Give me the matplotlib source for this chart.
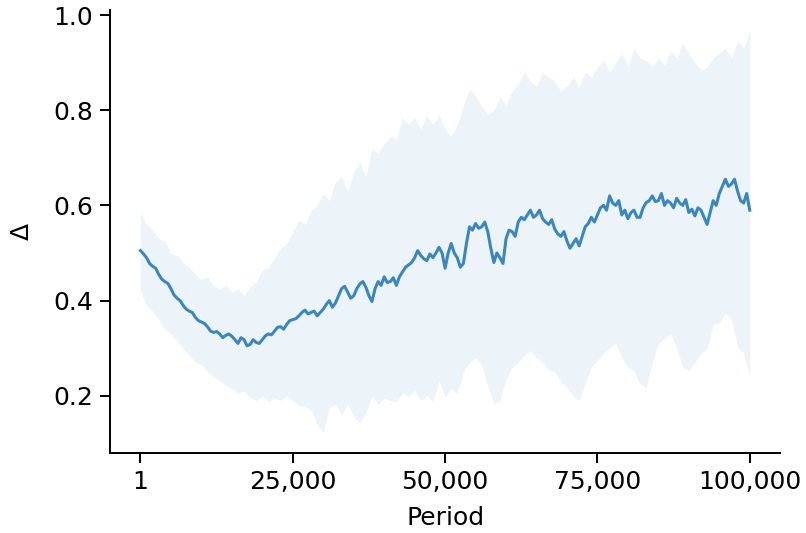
import matplotlib

matplotlib.use("Agg")
import matplotlib.pyplot as plt
from matplotlib.ticker import FuncFormatter

plt.rcParams["font.family"] = ["DejaVu Sans"]

# mean line sampled every 500 periods (first sample at period 1)
line_periods = [1] + list(range(500, 100001, 500))

delta_mean = [
    0.505, 0.498, 0.490, 0.478, 0.472, 0.468, 0.455, 0.445, 0.440, 0.436,
    0.425, 0.412, 0.405, 0.400, 0.390, 0.382, 0.378, 0.375, 0.365, 0.358,
    0.355, 0.352, 0.345, 0.336, 0.333, 0.335, 0.330, 0.322, 0.327, 0.330,
    0.325, 0.318, 0.310, 0.322, 0.318, 0.305, 0.308, 0.318, 0.312, 0.310,
    0.318, 0.326, 0.330, 0.328, 0.336, 0.344, 0.345, 0.340, 0.350, 0.358,
    0.360, 0.362, 0.368, 0.375, 0.380, 0.372, 0.375, 0.378, 0.368, 0.375,
    0.382, 0.392, 0.400, 0.386, 0.395, 0.410, 0.425, 0.430, 0.418, 0.405,
    0.410, 0.425, 0.435, 0.440, 0.428, 0.410, 0.398, 0.425, 0.440, 0.432,
    0.450, 0.438, 0.440, 0.448, 0.432, 0.450, 0.460, 0.470, 0.475, 0.480,
    0.490, 0.505, 0.495, 0.488, 0.484, 0.498, 0.490, 0.500, 0.512, 0.500,
    0.468, 0.500, 0.520, 0.500, 0.490, 0.470, 0.478, 0.520, 0.555, 0.548,
    0.562, 0.552, 0.555, 0.565, 0.545, 0.510, 0.480, 0.500, 0.490, 0.478,
    0.530, 0.548, 0.545, 0.535, 0.565, 0.575, 0.570, 0.580, 0.590, 0.575,
    0.580, 0.590, 0.572, 0.565, 0.560, 0.570, 0.550, 0.540, 0.535, 0.545,
    0.525, 0.510, 0.520, 0.530, 0.515, 0.535, 0.555, 0.562, 0.575, 0.565,
    0.580, 0.595, 0.600, 0.590, 0.620, 0.605, 0.600, 0.610, 0.580, 0.590,
    0.572, 0.585, 0.590, 0.575, 0.575, 0.595, 0.606, 0.610, 0.620, 0.608,
    0.610, 0.625, 0.600, 0.610, 0.605, 0.595, 0.615, 0.605, 0.600, 0.612,
    0.585, 0.592, 0.578, 0.595, 0.590, 0.575, 0.560, 0.585, 0.610, 0.600,
    0.625, 0.640, 0.655, 0.640, 0.645, 0.655, 0.630, 0.610, 0.605, 0.625,
    0.590,
]

# band sampled every 1,000 periods
band_periods = [1] + list(range(1000, 100001, 1000))

delta_upper = [
    0.585, 0.560, 0.548, 0.530, 0.525, 0.500, 0.495, 0.478, 0.470, 0.455,
    0.445, 0.450, 0.430, 0.425, 0.432, 0.418, 0.425, 0.410, 0.430, 0.440,
    0.465, 0.470, 0.490, 0.510, 0.520, 0.545, 0.570, 0.560, 0.590, 0.600,
    0.625, 0.610, 0.650, 0.660, 0.630, 0.670, 0.690, 0.660, 0.720, 0.710,
    0.730, 0.745, 0.740, 0.785, 0.770, 0.785, 0.760, 0.790, 0.770, 0.790,
    0.760, 0.745, 0.770, 0.810, 0.845, 0.830, 0.810, 0.790, 0.800, 0.830,
    0.810, 0.840, 0.855, 0.880, 0.860, 0.850, 0.880, 0.870, 0.860, 0.840,
    0.850, 0.870, 0.850, 0.880, 0.870, 0.890, 0.905, 0.880, 0.900, 0.920,
    0.890, 0.930, 0.910, 0.905, 0.890, 0.910, 0.895, 0.925, 0.910, 0.940,
    0.920, 0.900, 0.885, 0.890, 0.910, 0.920, 0.930, 0.910, 0.945, 0.930,
    0.968,
]

delta_lower = [
    0.420, 0.390, 0.378, 0.360, 0.340, 0.330, 0.315, 0.300, 0.285, 0.270,
    0.265, 0.250, 0.240, 0.232, 0.222, 0.215, 0.205, 0.210, 0.195, 0.190,
    0.200, 0.188, 0.195, 0.190, 0.200, 0.190, 0.180, 0.178, 0.170, 0.140,
    0.122, 0.175, 0.182, 0.160, 0.185, 0.155, 0.142, 0.165, 0.200, 0.183,
    0.195, 0.190, 0.188, 0.205, 0.200, 0.212, 0.190, 0.200, 0.188, 0.232,
    0.197, 0.215, 0.205, 0.250, 0.270, 0.280, 0.265, 0.220, 0.183, 0.190,
    0.235, 0.260, 0.270, 0.285, 0.295, 0.280, 0.270, 0.255, 0.250, 0.230,
    0.218, 0.200, 0.190, 0.225, 0.260, 0.274, 0.290, 0.300, 0.310, 0.280,
    0.260, 0.253, 0.225, 0.218, 0.270, 0.310, 0.320, 0.331, 0.300, 0.260,
    0.253, 0.270, 0.289, 0.300, 0.350, 0.352, 0.374, 0.360, 0.303, 0.290,
    0.240,
]

x_ticks = [1, 25000, 50000, 75000, 100000]
y_ticks = [0.2, 0.4, 0.6, 0.8, 1.0]

line_color = "#3a87c0"

fig, ax = plt.subplots(figsize=(8.06, 5.33), dpi=100)
fig.subplots_adjust(left=0.1365, right=0.968, top=0.981, bottom=0.15)

ax.fill_between(band_periods, delta_lower, delta_upper, color=line_color, alpha=0.09, linewidth=0)
ax.plot(line_periods, delta_mean, color=line_color, linewidth=2.2)

ax.set_xticks(x_ticks)
ax.xaxis.set_major_formatter(FuncFormatter(lambda v, _: f"{int(v):,}"))
ax.set_yticks(y_ticks)
ax.set_xlabel("Period", fontsize=18, labelpad=9)
ax.set_ylabel("Δ", fontsize=18, labelpad=14)

for side in ("top", "right"):
    ax.spines[side].set_visible(False)
for side in ("left", "bottom"):
    ax.spines[side].set_linewidth(1.4)
ax.tick_params(labelsize=18, length=7, width=1.4, pad=5)

plt.savefig("out.png", dpi=100)
plt.close(fig)
